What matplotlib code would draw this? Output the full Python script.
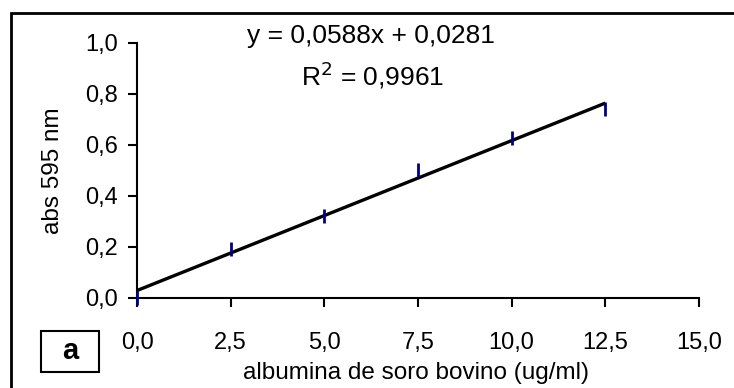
import matplotlib
matplotlib.use("Agg")
import matplotlib.pyplot as plt
from matplotlib.patches import Rectangle
import numpy as np

plt.rcParams['font.family'] = ['Liberation Sans', 'DejaVu Sans']

conc = [0.0, 2.5, 5.0, 7.5, 10.0, 12.5]
absorb = [0.0, 0.19, 0.32, 0.50, 0.625, 0.74]
slope = 0.0588
intercept = 0.0281
r2 = 0.9961
xticks = [0.0, 2.5, 5.0, 7.5, 10.0, 12.5, 15.0]
yticks = [0.0, 0.2, 0.4, 0.6, 0.8, 1.0]

W, H = 734, 388
fig = plt.figure(figsize=(W/100, H/100), dpi=100)
x0, x1, y0, y1 = 137, 699, 297.7, 42.7
ax = fig.add_axes([x0/W, 1-y0/H, (x1-x0)/W, (y0-y1)/H])

fx = np.array([conc[0], conc[-1]])
ax.plot(fx, slope*fx + intercept, color='black', lw=2.4, solid_capstyle='butt', zorder=2)
ax.plot(conc, absorb, linestyle='none', marker='|', markersize=10, markeredgewidth=2,
        color='#000080', zorder=3, clip_on=False)

ax.set_xlim(0, 15)
ax.set_ylim(0, 1)
ax.set_xticks(xticks)
ax.set_yticks(yticks)
ax.set_xticklabels([f"{v:.1f}".replace('.', ',') for v in xticks])
ax.set_yticklabels([f"{v:.1f}".replace('.', ',') for v in yticks])
for s in ['top', 'right']:
    ax.spines[s].set_visible(False)
for s in ['left', 'bottom']:
    ax.spines[s].set_linewidth(1.5)
ax.tick_params(axis='both', direction='out', length=6.5, width=1.5, labelsize=17, colors='black')
ax.tick_params(axis='x', pad=18)
ax.tick_params(axis='y', pad=7)

ax.set_xlabel('albumina de soro bovino (ug/ml)', fontsize=17.5)
ax.set_ylabel('abs 595 nm', fontsize=17.5)
ax.xaxis.set_label_coords((416-x0)/(x1-x0), (y0-373)/(y0-y1))
ax.xaxis.label.set_va('center')
ax.yaxis.set_label_coords((53-x0)/(x1-x0), 0.5)
ax.yaxis.label.set_va('center')

fig.text(371/W, 1-36/H, f"y = {slope:.4f}x + {intercept:.4f}".replace('.', ','),
         ha='center', va='center', fontsize=19)
fig.text(373/W, 1-75/H, "R$^2$ = " + f"{r2:.4f}".replace('.', ','),
         ha='center', va='center', fontsize=19)

# outer frame
fig.add_artist(Rectangle((11/W, -0.1), 1.2, 1-13/H + 0.1, transform=fig.transFigure,
                         fill=False, lw=2, edgecolor='black'))
# panel label box
fig.add_artist(Rectangle((41/W, 1-372/H), 58/W, 41/H, transform=fig.transFigure,
                         fill=False, lw=1.5, edgecolor='black'))
fig.text(70/W, 1-351/H, 'a', ha='center', va='center', fontsize=21, fontweight='bold')

fig.savefig('out.png', dpi=100)
